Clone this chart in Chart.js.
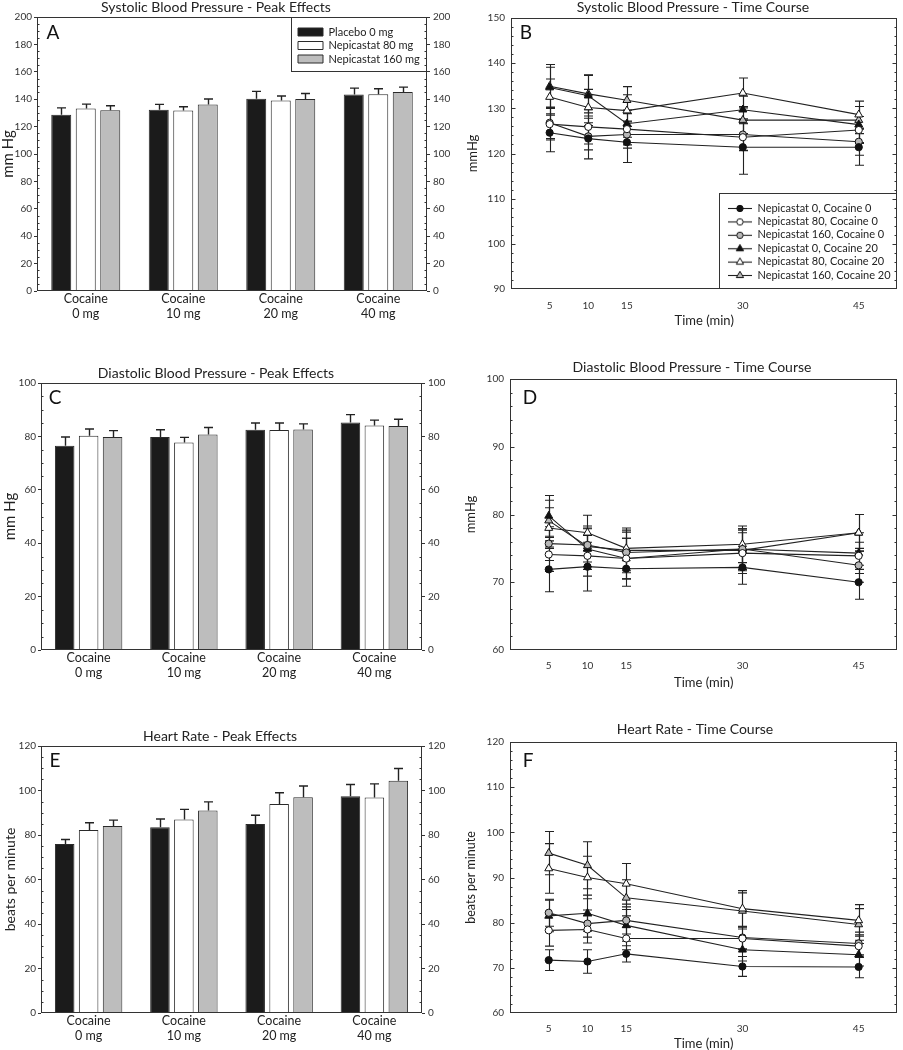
<!DOCTYPE html>
<html>
<head>
<meta charset="utf-8">
<script src="https://cdn.jsdelivr.net/npm/chart.js@4.4.1/dist/chart.umd.min.js"></script>
<style>
  html, body { margin: 0; padding: 0; background: #fff; }
  #wrap { position: relative; width: 903px; height: 1050px; overflow: hidden; }
  #wrap canvas { position: absolute; }
</style>
</head>
<body>
<div id="wrap">
  <canvas id="cA"></canvas>
  <canvas id="cB"></canvas>
  <canvas id="cC"></canvas>
  <canvas id="cD"></canvas>
  <canvas id="cE"></canvas>
  <canvas id="cF"></canvas>
</div>
<script>
// ---- data ----
const cocaineDoses = [['Cocaine', '0 mg'], ['Cocaine', '10 mg'], ['Cocaine', '20 mg'], ['Cocaine', '40 mg']];
const treatmentNames = ['Placebo 0 mg', 'Nepicastat 80 mg', 'Nepicastat 160 mg'];

// peak effects, one row per treatment
const sbpPeak    = [[128.6, 132.3, 140.3, 143.5], [133.2, 131.8, 139.1, 143.7], [132.0, 136.2, 140.1, 145.2]];
const sbpPeakErr = [[5.1, 3.9, 5.4, 4.6], [3.2, 2.7, 3.2, 3.9], [3.2, 3.9, 4.1, 3.6]];
const dbpPeak    = [[76.5, 79.75, 82.5, 85.25], [80.25, 77.75, 82.4, 84.1], [79.75, 80.75, 82.6, 83.9]];
const dbpPeakErr = [[3.25, 2.75, 2.5, 2.9], [2.5, 1.9, 2.6, 2.0], [2.4, 2.6, 2.1, 2.5]];
const hrPeak     = [[75.9, 83.5, 85.0, 97.4], [82.2, 87.0, 93.9, 96.9], [84.0, 91.0, 97.0, 104.4]];
const hrPeakErr  = [[2.1, 3.7, 3.9, 5.3], [3.3, 4.5, 5.1, 6.1], [2.7, 3.9, 5.0, 5.5]];

// time course
const timePoints = [5, 10, 15, 30, 45];
const groupNames = ['Nepicastat 0, Cocaine 0', 'Nepicastat 80, Cocaine 0', 'Nepicastat 160, Cocaine 0',
                    'Nepicastat 0, Cocaine 20', 'Nepicastat 80, Cocaine 20', 'Nepicastat 160, Cocaine 20'];

const sbpTime = [
  [124.6, 123.3, 122.5, 121.4, 121.4],
  [126.5, 125.9, 125.4, 123.6, 125.2],
  [126.8, 123.8, 124.2, 124.2, 122.6],
  [134.6, 132.8, 126.6, 129.7, 126.4],
  [132.5, 130.2, 129.5, 133.4, 128.6],
  [134.9, 133.2, 131.8, 127.4, 127.4]
];
const sbpTimeErr = [
  [4.2, 4.5, 4.5, 6.0, 4.0],
  [3.5, 3.8, 3.5, 3.0, 3.0],
  [3.5, 3.0, 3.0, 3.5, 3.0],
  [4.5, 4.5, 3.0, 3.0, 4.0],
  [4.0, 4.0, 3.5, 3.3, 3.0],
  [4.8, 4.2, 3.0, 3.0, 3.0]
];
const dbpTime = [
  [71.9, 72.3, 72.0, 72.2, 70.0],
  [74.1, 73.9, 73.5, 74.3, 73.9],
  [75.7, 75.5, 74.4, 74.9, 72.5],
  [79.8, 74.9, 73.5, 74.9, 74.3],
  [78.0, 77.3, 75.0, 75.6, 77.3],
  [79.1, 75.3, 74.7, 74.7, 77.3]
];
const dbpTimeErr = [
  [3.3, 3.6, 2.6, 2.5, 2.5],
  [2.5, 3.0, 3.0, 3.0, 2.0],
  [2.5, 2.5, 3.0, 3.0, 2.5],
  [3.0, 3.0, 3.0, 3.0, 3.0],
  [3.0, 2.6, 3.0, 2.7, 2.7],
  [3.0, 3.0, 3.0, 3.0, 2.7]
];
const hrTime = [
  [71.7, 71.4, 73.1, 70.3, 70.2],
  [78.3, 78.5, 76.5, 76.5, 74.8],
  [82.2, 79.8, 80.5, 76.7, 75.4],
  [81.5, 82.1, 79.4, 74.0, 72.9],
  [92.0, 90.0, 88.6, 83.1, 80.5],
  [95.4, 92.7, 85.5, 82.6, 79.6]
];
const hrTimeErr = [
  [2.3, 2.6, 1.8, 2.2, 2.4],
  [3.5, 3.0, 2.5, 2.5, 2.5],
  [3.0, 3.0, 3.0, 2.5, 2.5],
  [3.5, 4.0, 3.5, 2.5, 2.5],
  [5.5, 4.7, 4.5, 4.0, 3.5],
  [4.8, 5.2, 4.0, 4.0, 3.5]
];

// ---- styles ----
const barFill = ['#1b1b1b', '#ffffff', '#bdbdbd'];
const markerFill = ['#111111', '#ffffff', '#b8b8b8', '#111111', '#ffffff', '#b8b8b8'];
const markerShape = ['circle', 'circle', 'circle', 'triangle', 'triangle', 'triangle'];
const markerRadius = [3.6, 3.6, 3.6, 4.6, 4.6, 4.6];

Chart.defaults.font.family = "Lato, 'Open Sans', 'DejaVu Sans', sans-serif";
Chart.defaults.color = '#222';

// where each panel sits on the page (canvas box, plot area, title centre)
const gA = {box: {x: 0, y: 0, w: 455, h: 325}, area: {l: 37, t: 17, r: 427, b: 291}, titleX: 216, titleY: 7, yTitleX: 8, yTitleSize: 15, letter: 'A', letterAt: [16, 16]};
const gB = {box: {x: 455, y: 0, w: 448, h: 330}, area: {l: 511, t: 18, r: 902, b: 289}, titleX: 693, titleY: 7, yTitleX: 473, yTitleSize: 13, xTickPad: 10.5, xTitlePad: 2.5, letter: 'B', letterAt: [15, 15]};
const gC = {box: {x: 0, y: 355, w: 455, h: 330}, area: {l: 41, t: 383, r: 422, b: 650}, titleX: 216, titleY: 373, yTitleX: 10, yTitleSize: 15, letter: 'C', letterAt: [14, 15]};
const gD = {box: {x: 455, y: 355, w: 448, h: 335}, area: {l: 510, t: 379, r: 898, b: 650}, titleX: 692, titleY: 367, yTitleX: 471, yTitleSize: 13, xTickPad: 9.5, xTitlePad: 0.5, letter: 'D', letterAt: [20, 19]};
const gE = {box: {x: 0, y: 715, w: 455, h: 335}, area: {l: 41, t: 746, r: 422, b: 1013}, titleX: 220, titleY: 736, yTitleX: 10, yTitleSize: 14, letter: 'E', letterAt: [14, 15]};
const gF = {box: {x: 455, y: 715, w: 448, h: 335}, area: {l: 510, t: 742, r: 898, b: 1013}, titleX: 695, titleY: 729, yTitleX: 471, yTitleSize: 12.5, xTickPad: 9.5, xTitlePad: 0, letter: 'F', letterAt: [18, 19]};

// ---- plugins ----
// frame, inner ticks, panel letter, boxed legend, title position
const panelPlugin = {
  id: 'panel',
  afterLayout(chart, args, opts) {
    const tb = chart.titleBlock;
    if (tb) {
      const cx = opts.titleX - opts.originX;
      tb.left = cx - 220; tb.right = cx + 220; tb.width = 440;
    }
    const lb = opts.legendBox, lg = chart.legend;
    if (lb && lg) {
      const ca = chart.chartArea;
      const bx = ca.right - lb.w, by = lb.atBottom ? ca.bottom - lb.h : ca.top;
      lg.left = bx + lb.dx; lg.top = by + lb.dy;
      lg.right = bx + lb.w; lg.bottom = by + lb.h;
      lg.width = lg.right - lg.left; lg.height = lg.bottom - lg.top;
    }
  },
  afterDraw(chart, args, opts) {
    const {ctx, chartArea: ca} = chart;
    const ys = chart.scales.y;
    const L = Math.round(ca.left) + 0.5, R = Math.round(ca.right) - 0.5;
    const T = Math.round(ca.top) + 0.5, B = Math.round(ca.bottom) - 0.5;
    ctx.save();
    ctx.strokeStyle = '#333';
    ctx.lineWidth = 1;
    ctx.strokeRect(L, T, R - L, B - T);

    // small ticks on both sides
    ctx.beginPath();
    for (let v = ys.min + opts.minorStep; v < ys.max - 1e-9; v += opts.minorStep) {
      const isMajor = Math.abs(v / opts.majorStep - Math.round(v / opts.majorStep)) < 1e-6;
      const len = isMajor ? opts.majorIn : 2;
      if (!len) continue;
      const py = Math.round(ys.getPixelForValue(v)) + 0.5;
      ctx.moveTo(L, py); ctx.lineTo(L + len, py);
      ctx.moveTo(R, py); ctx.lineTo(R - len, py);
    }
    ctx.stroke();

    const lb = opts.legendBox;
    if (lb) {
      const bx = ca.right - lb.w, by = lb.atBottom ? ca.bottom - lb.h : ca.top;
      ctx.strokeRect(Math.round(bx) + 0.5, Math.round(by) + 0.5, lb.w - 1, lb.h - 1);
    }

    ctx.fillStyle = '#111';
    ctx.font = "19px Lato, 'Open Sans', sans-serif";
    ctx.textAlign = 'center';
    ctx.textBaseline = 'middle';
    ctx.fillText(opts.letter, ca.left + opts.letterAt[0], ca.top + opts.letterAt[1]);
    ctx.restore();
  }
};

function drawErrorBars(chart, opts) {
  const ctx = chart.ctx, ys = chart.scales.y;
  ctx.save();
  ctx.strokeStyle = '#222';
  ctx.lineWidth = opts.width;
  chart.data.datasets.forEach((ds, i) => {
    const meta = chart.getDatasetMeta(i);
    meta.data.forEach((el, j) => {
      const raw = ds.data[j];
      const val = typeof raw === 'object' ? raw.y : raw;
      const e = ds.errors[j];
      const x = Math.round(el.x) + 0.5;
      const yTop = ys.getPixelForValue(val + e);
      const yBot = opts.upOnly ? el.y : ys.getPixelForValue(val - e);
      ctx.beginPath();
      ctx.moveTo(x, yBot); ctx.lineTo(x, yTop);
      ctx.moveTo(x - opts.cap, yTop); ctx.lineTo(x + opts.cap, yTop);
      if (!opts.upOnly) { ctx.moveTo(x - opts.cap, yBot); ctx.lineTo(x + opts.cap, yBot); }
      ctx.stroke();
    });
  });
  ctx.restore();
}

const errorBarPlugin = {
  id: 'errorBars',
  beforeDatasetsDraw(chart, args, opts) { if (opts.behind) drawErrorBars(chart, opts); },
  afterDatasetsDraw(chart, args, opts) { if (!opts.behind) drawErrorBars(chart, opts); }
};

// legend symbol: short line with the marker on it
function legendIcon(i) {
  const c = document.createElement('canvas');
  c.width = 24; c.height = 12;
  const g = c.getContext('2d');
  g.strokeStyle = '#222'; g.lineWidth = 1.1;
  g.beginPath(); g.moveTo(0, 6.5); g.lineTo(24, 6.5); g.stroke();
  g.fillStyle = markerFill[i]; g.strokeStyle = '#111'; g.lineWidth = 1;
  Chart.helpers.drawPoint(g, {pointStyle: markerShape[i], radius: markerRadius[i] - 0.4, borderWidth: 1, rotation: 0}, 12, 6.5);
  return c;
}

// ---- helpers ----
function setupCanvas(id, box) {
  const c = document.getElementById(id);
  c.width = box.w; c.height = box.h;
  c.style.left = box.x + 'px'; c.style.top = box.y + 'px';
  c.style.width = box.w + 'px'; c.style.height = box.h + 'px';
  return c;
}

function titleOpts(text, g) {
  const top = g.titleY - g.box.y - 7;
  return {
    display: true, text, color: '#222',
    font: {size: 14, weight: 'normal', lineHeight: 1},
    padding: {top, bottom: g.area.t - g.box.y - 14 - top}
  };
}

function panelOpts(g, extra) {
  return Object.assign({originX: g.box.x, titleX: g.titleX, letter: g.letter, letterAt: g.letterAt}, extra);
}

function barPanel(id, g, o) {
  const leftW = g.area.l - g.box.x;
  const rightW = g.box.x + g.box.w - g.area.r;
  const bottomH = g.box.y + g.box.h - g.area.b;
  const yTicks = {stepSize: o.majorStep, font: {size: 10}, color: '#333'};
  const yGrid = {drawOnChartArea: false, tickLength: 3, color: '#333'};

  new Chart(setupCanvas(id, g.box), {
    type: 'bar',
    data: {
      labels: cocaineDoses,
      datasets: treatmentNames.map((name, i) => ({
        label: name,
        data: o.means[i],
        errors: o.errs[i],
        backgroundColor: barFill[i],
        borderColor: '#2a2a2a',
        borderWidth: 1,
        categoryPercentage: 0.754,
        barPercentage: 0.816
      }))
    },
    options: {
      responsive: false,
      animation: false,
      layout: {padding: 0},
      scales: {
        x: {
          grid: {display: false, drawTicks: false}, border: {display: false},
          ticks: {font: {size: 12.5, lineHeight: 1.15}, color: '#222', padding: 1, maxRotation: 0, autoSkip: false},
          afterFit: s => { s.height = bottomH; }
        },
        y: {
          min: 0, max: o.yMax,
          ticks: Object.assign({padding: 2}, yTicks),
          grid: yGrid, border: {display: false},
          title: {display: true, text: o.yTitle, color: '#222', font: {size: g.yTitleSize, lineHeight: 1},
                  padding: {top: g.yTitleX - g.box.x - g.yTitleSize / 2, bottom: 0}},
          afterFit: s => { s.width = leftW; }
        },
        y2: {
          position: 'right', min: 0, max: o.yMax,
          ticks: Object.assign({padding: 3}, yTicks),
          grid: yGrid, border: {display: false},
          afterFit: s => { s.width = rightW; }
        }
      },
      plugins: {
        title: titleOpts(o.title, g),
        legend: o.legend ? {
          position: 'chartArea', align: 'start',
          labels: {boxWidth: 25, boxHeight: 8, padding: 2.5, color: '#222', font: {size: 11}}
        } : {display: false},
        tooltip: {enabled: false},
        errorBars: {upOnly: true, cap: 4.5, width: 1.4, behind: false},
        panel: panelOpts(g, {
          majorStep: o.majorStep, minorStep: 5, majorIn: 0,
          legendBox: o.legend ? {w: 136, h: 55, dx: 4.5, dy: 7, atBottom: false} : null
        })
      }
    },
    plugins: [panelPlugin, errorBarPlugin]
  });
}

function linePanel(id, g, o) {
  const leftW = g.area.l - g.box.x;
  const rightPad = g.box.x + g.box.w - g.area.r;
  const bottomH = g.box.y + g.box.h - g.area.b;
  const icons = groupNames.map((n, i) => legendIcon(i));

  new Chart(setupCanvas(id, g.box), {
    type: 'line',
    data: {
      datasets: groupNames.map((name, i) => ({
        label: name,
        data: timePoints.map((t, j) => ({x: t, y: o.means[i][j]})),
        errors: o.errs[i],
        borderColor: '#222',
        borderWidth: 1.1,
        fill: false,
        tension: 0,
        pointStyle: markerShape[i],
        pointRadius: markerRadius[i],
        pointBorderWidth: 1,
        pointBackgroundColor: markerFill[i],
        pointBorderColor: '#111'
      }))
    },
    options: {
      responsive: false,
      animation: false,
      layout: {padding: {right: rightPad}},
      scales: {
        x: {
          type: 'linear', min: 0, max: 50,
          afterBuildTicks: s => { s.ticks = timePoints.map(v => ({value: v})); },
          grid: {display: false, drawTicks: false}, border: {display: false},
          ticks: {font: {size: 10}, color: '#333', padding: g.xTickPad},
          title: {display: true, text: 'Time (min)', color: '#222', font: {size: 13, lineHeight: 1},
                  padding: {top: 0, bottom: g.xTitlePad}},
          afterFit: s => { s.height = bottomH; }
        },
        y: {
          min: o.yMin, max: o.yMax,
          ticks: {stepSize: 10, font: {size: 10}, color: '#333', padding: 6},
          grid: {display: false, drawTicks: false}, border: {display: false},
          title: {display: true, text: o.yTitle, color: '#222', font: {size: g.yTitleSize, lineHeight: 1},
                  padding: {top: g.yTitleX - g.box.x - g.yTitleSize / 2, bottom: 0}},
          afterFit: s => { s.width = leftW; }
        }
      },
      plugins: {
        title: titleOpts(o.title, g),
        legend: o.legend ? {
          position: 'chartArea', align: 'start',
          labels: {
            usePointStyle: true, pointStyleWidth: 24, padding: 2.4, color: '#222', font: {size: 11},
            generateLabels: chart => {
              const items = Chart.defaults.plugins.legend.labels.generateLabels(chart);
              items.forEach((it, i) => { it.pointStyle = icons[i]; });
              return items;
            }
          }
        } : {display: false},
        tooltip: {enabled: false},
        errorBars: {upOnly: false, cap: 4.5, width: 1.1, behind: true},
        panel: panelOpts(g, {
          majorStep: 10, minorStep: 2, majorIn: 4,
          legendBox: o.legend ? {w: 178, h: 96, dx: 6.1, dy: 7.1, atBottom: true} : null
        })
      }
    },
    plugins: [panelPlugin, errorBarPlugin]
  });
}

// ---- panels ----
barPanel('cA', gA, {title: 'Systolic Blood Pressure - Peak Effects', yTitle: 'mm Hg', yMax: 200, majorStep: 20,
                    means: sbpPeak, errs: sbpPeakErr, legend: true});
linePanel('cB', gB, {title: 'Systolic Blood Pressure - Time Course', yTitle: 'mmHg', yMin: 90, yMax: 150,
                     means: sbpTime, errs: sbpTimeErr, legend: true});
barPanel('cC', gC, {title: 'Diastolic Blood Pressure - Peak Effects', yTitle: 'mm Hg', yMax: 100, majorStep: 20,
                    means: dbpPeak, errs: dbpPeakErr, legend: false});
linePanel('cD', gD, {title: 'Diastolic Blood Pressure - Time Course', yTitle: 'mmHg', yMin: 60, yMax: 100,
                     means: dbpTime, errs: dbpTimeErr, legend: false});
barPanel('cE', gE, {title: 'Heart Rate - Peak Effects', yTitle: 'beats per minute', yMax: 120, majorStep: 20,
                    means: hrPeak, errs: hrPeakErr, legend: false});
linePanel('cF', gF, {title: 'Heart Rate - Time Course', yTitle: 'beats per minute', yMin: 60, yMax: 120,
                     means: hrTime, errs: hrTimeErr, legend: false});
</script>
</body>
</html>
